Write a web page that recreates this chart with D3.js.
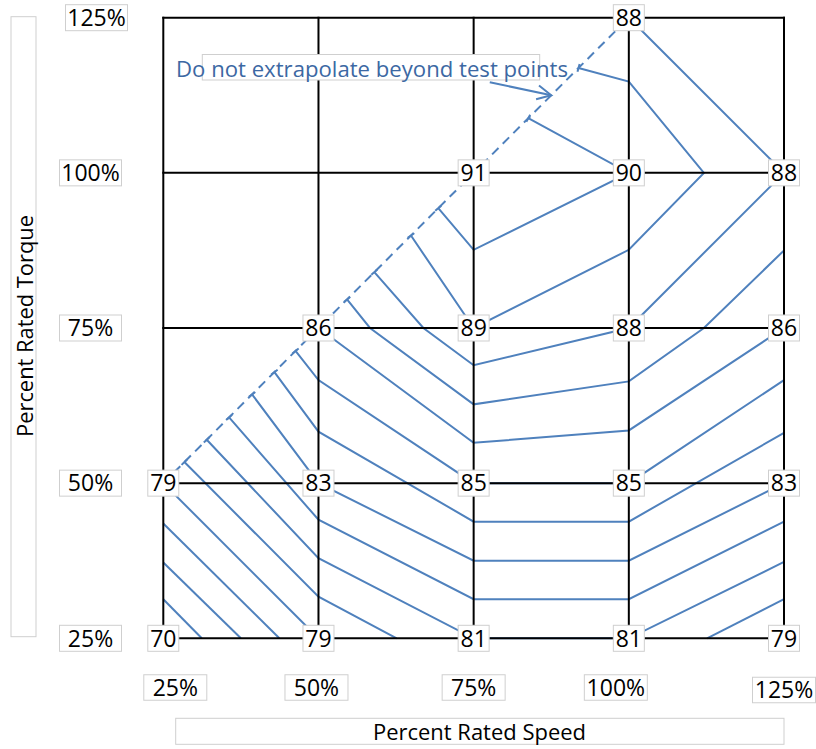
<!DOCTYPE html>
<html>
<head>
<meta charset="utf-8">
<script src="https://cdn.jsdelivr.net/npm/d3@7"></script>
<style>
  body { margin: 0; background: #fff; }
  text { font-family: "Open Sans", sans-serif; }
</style>
</head>
<body>
<svg width="816" height="749"></svg>
<script>
// grid / ticks
var speedTicks = [25, 50, 75, 100, 125];
var torqueTicks = [25, 50, 75, 100, 125];
var tickLabels = ["25%", "50%", "75%", "100%", "125%"];

// measured test points (speed %, torque %, value)
var pointSpeed  = [25, 50, 75, 100, 125, 25, 50, 75, 100, 125, 50, 75, 100, 125, 75, 100, 125, 100];
var pointTorque = [25, 25, 25, 25, 25, 50, 50, 50, 50, 50, 75, 75, 75, 75, 100, 100, 100, 125];
var pointValue  = [70, 79, 81, 81, 79, 79, 83, 85, 85, 83, 86, 89, 88, 86, 91, 90, 88, 88];

// limit of test points (dashed)
var boundary = [[25, 50], [100, 125]];

// contour lines, [speed, torque]
var contourLines = [
  [[25, 31.3], [31.2, 25]],
  [[25, 37.2], [37.5, 25]],
  [[25, 43.5], [43.7, 25]],
  [[25, 50], [50, 25]],
  [[28.4, 53.4], [50, 31.7], [62.6, 25]],
  [[32.0, 57.0], [50, 37.9], [75, 25], [100, 25], [125, 37.3]],
  [[35.6, 60.6], [50, 44.1], [75, 31.3], [100, 31.3], [125, 43.8]],
  [[39.3, 64.3], [50, 50], [75, 37.5], [100, 37.5], [125, 50]],
  [[42.9, 67.9], [50, 58.3], [75, 43.8], [100, 43.8], [125, 58.1]],
  [[46.3, 71.3], [50, 66.6], [75, 50], [100, 50], [125, 66.6]],
  [[50, 75], [75, 56.5], [100, 58.5], [125, 75]],
  [[54.6, 79.6], [58.3, 75], [75, 62.7], [100, 66.4], [112.1, 75], [125, 87.5]],
  [[59.0, 84.0], [66.9, 75], [75, 69], [100, 75], [125, 100], [100, 125]],
  [[64.9, 89.9], [75, 75], [100, 87.6], [112.1, 100], [100, 114.7], [91.9, 116.9]],
  [[69.3, 94.3], [75, 87.6], [100, 100], [83.8, 108.8]],
  [[112.6, 25], [125, 31.3]]
];

var noteText = "Do not extrapolate beyond test points";
var noteArrow = [[77.6, 114.6], [87.5, 112.5]];

var svg = d3.select("svg");
var blue = "#4f81bd";
var boxStroke = "#cfcfcf";

var x = d3.scaleLinear().domain([25, 125]).range([163.3, 784]);
var y = d3.scaleLinear().domain([25, 125]).range([638.3, 17.7]);

var defs = svg.append("defs");
defs.append("marker")
    .attr("id", "cap")
    .attr("markerUnits", "userSpaceOnUse")
    .attr("markerWidth", 12).attr("markerHeight", 12)
    .attr("orient", "auto")
    .attr("overflow", "visible")
    .append("path")
    .attr("d", "M0,-4L0,4")
    .attr("stroke", blue).attr("stroke-width", 2);
defs.append("marker")
    .attr("id", "arrow")
    .attr("markerUnits", "userSpaceOnUse")
    .attr("markerWidth", 20).attr("markerHeight", 20)
    .attr("orient", "auto")
    .attr("overflow", "visible")
    .append("path")
    .attr("d", "M-14,-7L0,0L-14,7")
    .attr("fill", "none")
    .attr("stroke", blue).attr("stroke-width", 2);

var line = d3.line().x(function(d) { return x(d[0]); }).y(function(d) { return y(d[1]); });

// a contour end that sits on the dashed limit (not at a test point) gets a small cap
var isGridNode = function(p) { return p[0] % 25 === 0 && p[1] % 25 === 0; };
var onLimit = function(p) { return Math.abs(p[1] - (p[0] + 25)) < 1 && !isGridNode(p); };

svg.append("g").selectAll("path")
    .data(contourLines)
    .enter()
    .append("path")
    .attr("d", line)
    .attr("fill", "none")
    .attr("stroke", blue)
    .attr("stroke-width", 2)
    .attr("marker-start", function(d) { return onLimit(d[0]) ? "url(#cap)" : null; })
    .attr("marker-end", function(d) { return onLimit(d[d.length - 1]) ? "url(#cap)" : null; });

svg.append("path")
    .attr("d", line(boundary))
    .attr("fill", "none")
    .attr("stroke", blue)
    .attr("stroke-width", 2)
    .attr("stroke-dasharray", "9,6");

// grid
var grid = svg.append("g").attr("stroke", "#000").attr("stroke-width", 2);
grid.selectAll("line.v")
    .data(speedTicks)
    .enter()
    .append("line")
    .attr("x1", function(d) { return x(d); })
    .attr("x2", function(d) { return x(d); })
    .attr("y1", y(125) - 1)
    .attr("y2", y(25) + 1);
grid.selectAll("line.h")
    .data(torqueTicks)
    .enter()
    .append("line")
    .attr("y1", function(d) { return y(d); })
    .attr("y2", function(d) { return y(d); })
    .attr("x1", x(25) - 1)
    .attr("x2", x(125) + 1);

// boxed label helper
var boxLabel = function(g, cx, cy, w, h, str, color) {
    g.append("rect")
        .attr("x", cx - w / 2).attr("y", cy - h / 2)
        .attr("width", w).attr("height", h)
        .attr("fill", "#fff")
        .attr("stroke", boxStroke).attr("stroke-width", 1);
    g.append("text")
        .attr("x", cx).attr("y", cy)
        .attr("dy", "0.36em")
        .attr("text-anchor", "middle")
        .attr("font-size", 23)
        .attr("fill", color || "#000")
        .text(str);
};

// test point values
var pts = svg.append("g");
pointValue.forEach(function(v, i) {
    boxLabel(pts, x(pointSpeed[i]), y(pointTorque[i]), 31, 26, v);
});

// tick labels
var yNudge = [0, 0, 0, 0, 6];
var xNudge = [12, -2, 0, -13, 0];
var ticks = svg.append("g");
torqueTicks.forEach(function(t, i) {
    boxLabel(ticks, 90.5 + yNudge[i], y(t), 62, 26, tickLabels[i]);
});
speedTicks.forEach(function(s, i) {
    boxLabel(ticks, x(s) + xNudge[i], i === 4 ? 690 : 687.5, 63, 25.5, tickLabels[i]);
});

// axis titles
svg.append("rect")
    .attr("x", 175.7).attr("y", 718.3).attr("width", 608.3).attr("height", 26)
    .attr("fill", "#fff").attr("stroke", boxStroke);
svg.append("text")
    .attr("x", 479.5).attr("y", 740)
    .attr("text-anchor", "middle")
    .attr("font-size", 21)
    .attr("textLength", 213).attr("lengthAdjust", "spacingAndGlyphs")
    .text("Percent Rated Speed");

svg.append("rect")
    .attr("x", 11).attr("y", 16.7).attr("width", 25).attr("height", 620)
    .attr("fill", "#fff").attr("stroke", boxStroke);
svg.append("text")
    .attr("transform", "translate(33,326) rotate(-90)")
    .attr("text-anchor", "middle")
    .attr("font-size", 21)
    .attr("textLength", 222).attr("lengthAdjust", "spacingAndGlyphs")
    .text("Percent Rated Torque");

// note
svg.append("rect")
    .attr("x", 202.3).attr("y", 54.5).attr("width", 337.4).attr("height", 25.5)
    .attr("fill", "#fff").attr("stroke", boxStroke);
svg.append("text")
    .attr("x", 176).attr("y", 76.5)
    .attr("font-size", 22)
    .attr("fill", "#3c68a3")
    .attr("textLength", 392).attr("lengthAdjust", "spacingAndGlyphs")
    .text(noteText);
svg.append("path")
    .attr("d", line(noteArrow))
    .attr("fill", "none")
    .attr("stroke", blue)
    .attr("stroke-width", 2)
    .attr("marker-end", "url(#arrow)");
</script>
</body>
</html>
